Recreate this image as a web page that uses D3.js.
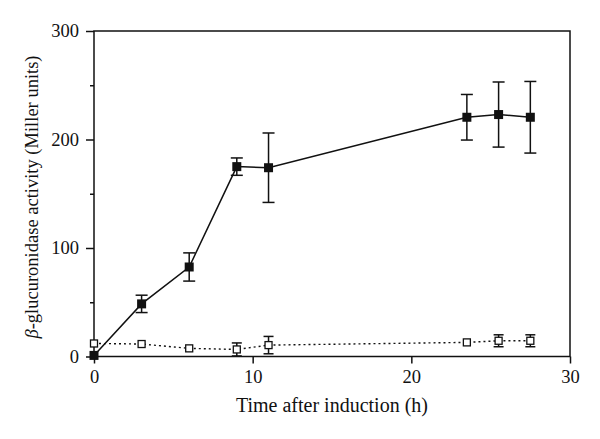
<!DOCTYPE html>
<html><head><meta charset="utf-8">
<script src="https://cdn.jsdelivr.net/npm/d3@7"></script>
<style>body{margin:0;background:#fff;} text{font-family:"Liberation Serif","DejaVu Serif",serif;fill:#111;}</style>
</head><body><svg id="c" width="600" height="439"></svg>
<script>
const timeFilled = [0, 3, 6, 9, 11, 23.5, 25.5, 27.5];
const filledVals = [1, 48.5, 82.5, 175, 174, 220.5, 223, 220.5];
const filledErr  = [0, 8, 13, 8, 32, 21, 30, 33];
const timeOpen = [0, 3, 6, 9, 11, 23.5, 25.5, 27.5];
const openVals = [12, 11.5, 7.5, 6.5, 10.5, 13, 14.5, 14.5];
const openErr  = [0, 0, 0, 6, 8, 0, 5.5, 5.5];
const xTicks = [0, 10, 20, 30];
const yTicks = [0, 100, 200, 300];
const yMinor = [50, 150, 250];

const svg = d3.select("#c");
const m = {l:94, r:570, t:31, b:356.5};
const x = d3.scaleLinear().domain([0,30]).range([m.l, m.r]);
const y = d3.scaleLinear().domain([0,300]).range([m.b, m.t]);

// frame
svg.append("rect").attr("x",m.l).attr("y",m.t).attr("width",m.r-m.l).attr("height",m.b-m.t)
  .attr("fill","none").attr("stroke","#111").attr("stroke-width",1.5);

const ya = svg.append("g").attr("transform",`translate(${m.l},0)`)
  .call(d3.axisLeft(y).tickValues(yTicks).tickSize(8).tickPadding(7).tickFormat(d3.format("d")));
const yb = svg.append("g").attr("transform",`translate(${m.l},0)`)
  .call(d3.axisLeft(y).tickValues(yMinor).tickSize(4).tickFormat(""));
const xa = svg.append("g").attr("transform",`translate(0,${m.b})`)
  .call(d3.axisBottom(x).tickValues(xTicks).tickSize(7).tickPadding(6).tickFormat(d3.format("d")));
[ya,yb,xa].forEach(g=>{
  g.select(".domain").remove();
  g.selectAll("line").attr("stroke","#111").attr("stroke-width",1.5);
  g.selectAll("text").style("font-family",'"Liberation Serif",serif').style("font-size","18.5px").attr("fill","#111");
});

// lines
const lineF = d3.line().x((d,i)=>x(timeFilled[i])).y(d=>y(d));
svg.append("path").attr("d",lineF(filledVals)).attr("fill","none").attr("stroke","#111").attr("stroke-width",1.5);
const lineO = d3.line().x((d,i)=>x(timeOpen[i])).y(d=>y(d));
svg.append("path").attr("d",lineO(openVals)).attr("fill","none").attr("stroke","#111").attr("stroke-width",1.4).attr("stroke-dasharray","2,3");

// error bars
function errBars(ts, vs, es, cap){
  ts.forEach((t,i)=>{
    if(!es[i]) return;
    const cx=x(t), y1=y(vs[i]+es[i]), y2=y(vs[i]-es[i]);
    svg.append("line").attr("x1",cx).attr("x2",cx).attr("y1",y1).attr("y2",y2).attr("stroke","#111").attr("stroke-width",1.5);
    [y1,y2].forEach(yy=>svg.append("line").attr("x1",cx-cap).attr("x2",cx+cap).attr("y1",yy).attr("y2",yy).attr("stroke","#111").attr("stroke-width",1.5));
  });
}
errBars(timeFilled, filledVals, filledErr, 6);
errBars(timeOpen, openVals, openErr, 5);

// markers
const sF=9, sO=8;
svg.selectAll(".fm").data(filledVals).enter().append("rect")
  .attr("x",(d,i)=>x(timeFilled[i])-sF/2).attr("y",d=>y(d)-sF/2).attr("width",sF).attr("height",sF).attr("fill","#111");
svg.selectAll(".om").data(openVals).enter().append("rect")
  .attr("x",(d,i)=>x(timeOpen[i])-sO/2+0.5).attr("y",d=>y(d)-sO/2+0.5).attr("width",sO-1).attr("height",sO-1)
  .attr("fill","#fff").attr("stroke","#111").attr("stroke-width",1.3);

// labels
svg.append("text").attr("x",(m.l+m.r)/2).attr("y",412).attr("text-anchor","middle").style("font-size","20px").text("Time after induction (h)");
const yl = svg.append("text").attr("transform",`translate(38,197) rotate(-90)`).attr("text-anchor","middle").style("font-size","18.5px");
yl.append("tspan").style("font-style","italic").text("β");
yl.append("tspan").text("-glucuronidase activity (Miller units)");
</script></body></html>
